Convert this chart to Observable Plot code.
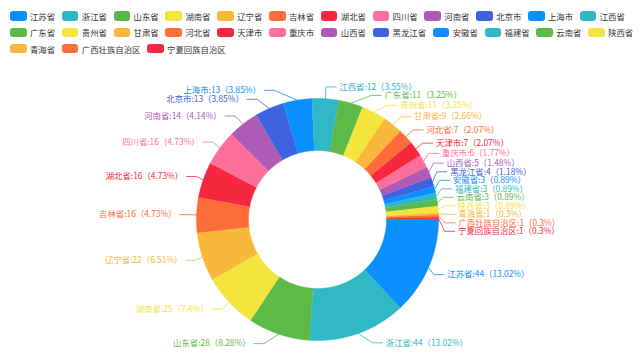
<!DOCTYPE html>
<html>
<head>
<meta charset="utf-8">
<script src="https://cdn.jsdelivr.net/npm/d3@7"></script>
<script src="https://cdn.jsdelivr.net/npm/@observablehq/plot@0.6"></script>
<style>
  html, body { margin: 0; padding: 0; background: #fff; }
  #wrap { position: relative; width: 640px; height: 360px; overflow: hidden; font-family: "Noto Sans CJK SC", "Noto Sans", sans-serif; }
  #legend { position: absolute; left: 10px; top: 11px; width: 630px; display: flex; flex-wrap: wrap; column-gap: 6.7px; row-gap: 6.4px; }
  .item { display: flex; align-items: center; height: 10px; font-size: 8.4px; line-height: 10px; color: #333; white-space: nowrap; }
  .sw { width: 16.7px; height: 9.3px; border-radius: 3px; margin-right: 3.3px; flex: none; }
</style>
</head>
<body>
<div id="wrap"><div id="legend"></div></div>
<script>
const names = ["江苏省","浙江省","山东省","湖南省","辽宁省","吉林省","湖北省","四川省","河南省","北京市","上海市","江西省","广东省","贵州省","甘肃省","河北省","天津市","重庆市","山西省","黑龙江省","安徽省","福建省","云南省","陕西省","青海省","广西壮族自治区","宁夏回族自治区"];
const values = [44,44,28,25,22,16,16,16,14,13,13,12,11,11,9,7,7,6,5,4,3,3,3,3,1,1,1];
const palette = ["#0a8fff","#31b8c6","#5cbb48","#f3e53d","#f8b83c","#fe6c3a","#f5283f","#ff6f9b","#ae5bb5","#3d62e0"];

// geometry (px)
const W = 640, H = 360, cx = 317, cy = 219, R = 121, R0 = 69;
const len = 10, len2 = 10, dist = 3.3, lh = 8.5;

const total = d3.sum(values);
// percentages with largest remainder (precision 2)
const raw = values.map(v => v / total * 10000);
const fl = raw.map(Math.floor);
let rem = 10000 - d3.sum(fl);
const order = d3.range(values.length).sort((a, b) => (raw[b] - fl[b]) - (raw[a] - fl[a]));
for (let k = 0; k < rem; k++) fl[order[k]] += 1;
const pct = fl.map(n => String(+(n / 100).toFixed(2)));

const rows = names.map((name, i) => ({name, value: values[i], color: palette[i % palette.length], pct: pct[i]}));

// slices
const slicePts = [];
const labelItems = [];
let acc = 0;
rows.forEach((d, i) => {
  const a0 = acc / total * 2 * Math.PI;
  acc += d.value;
  const a1 = acc / total * 2 * Math.PI;
  const n = Math.max(2, Math.ceil((a1 - a0) / (Math.PI / 360)));
  for (let k = 0; k <= n; k++) {
    const a = a0 + (a1 - a0) * k / n;
    slicePts.push({id: i, color: d.color, x: cx + R * Math.cos(a), y: cy + R * Math.sin(a)});
  }
  for (let k = n; k >= 0; k--) {
    const a = a0 + (a1 - a0) * k / n;
    slicePts.push({id: i, color: d.color, x: cx + R0 * Math.cos(a), y: cy + R0 * Math.sin(a)});
  }
  const mid = (a0 + a1) / 2;
  const dx = Math.cos(mid), dy = Math.sin(mid);
  const x1 = cx + R * dx, y1 = cy + R * dy;
  const x2 = x1 + dx * len, y2 = y1 + dy * len;
  const x3 = x2 + (dx < 0 ? -1 : 1) * len2, y3 = y2;
  labelItems.push({
    id: i, color: d.color,
    text: `${d.name}:${d.value}（${d.pct}%）`,
    x: x3 + (dx < 0 ? -dist : dist), y: y3, height: lh, len, len2,
    linePoints: [[x1, y1], [x2, y2], [x3, y3]]
  });
});

// ECharts-like label overlap avoidance
function adjustSingleSide(list, dir, viewTop, viewHeight) {
  if (!list.length) return;
  list.sort((a, b) => a.y - b.y);
  function shiftUp(end, delta) {
    for (let j = end; j >= 0; j--) {
      if (list[j].y - delta < viewTop) break;
      list[j].y -= delta;
      if (j > 0 && list[j].y > list[j - 1].y + list[j - 1].height) break;
    }
  }
  function shiftDown(start, end, delta) {
    for (let j = start; j < end; j++) {
      if (list[j].y + delta > viewTop + viewHeight) break;
      list[j].y += delta;
      if (j > start && j + 1 < end && list[j + 1].y > list[j].y + list[j].height) {
        shiftUp(j, delta / 2);
        return;
      }
    }
    shiftUp(end - 1, delta / 2);
  }
  function changeX(sub, isDown) {
    let last = isDown ? Number.MAX_VALUE : 0;
    for (const it of sub) {
      const ady = Math.abs(it.y - cy);
      let ddx = ady < R + it.len
        ? Math.sqrt((R + it.len + it.len2) ** 2 - ady * ady)
        : Math.abs(it.x - cx);
      if (isDown && ddx >= last) ddx = last - 6.7;
      if (!isDown && ddx <= last) ddx = last + 6.7;
      it.x = cx + ddx * dir;
      last = ddx;
    }
  }
  let lastY = 0;
  for (let i = 0; i < list.length; i++) {
    const delta = list[i].y - lastY;
    if (delta < 0) shiftDown(i, list.length, -delta);
    lastY = list[i].y + list[i].height;
  }
  if (viewHeight - lastY < 0) shiftUp(list.length - 1, lastY - viewHeight);
  changeX(list.filter(d => d.y < cy), false);
  changeX(list.filter(d => d.y >= cy), true);
}
const leftL = labelItems.filter(d => d.x < cx), rightL = labelItems.filter(d => d.x >= cx);
adjustSingleSide(rightL, 1, 0, H);
adjustSingleSide(leftL, -1, 0, H);
const linePts = [];
for (const it of labelItems) {
  const lp = it.linePoints;
  const d0 = lp[1][0] - lp[2][0];
  it.left = it.x < cx;
  lp[2][0] = it.left ? it.x + dist : it.x - dist;
  lp[1][0] = lp[2][0] + d0;
  lp[1][1] = lp[2][1] = it.y;
  lp.forEach(p => linePts.push({id: it.id, color: it.color, x: p[0], y: p[1]}));
}

const font = "Noto Sans CJK SC, Noto Sans, sans-serif";
const chart = Plot.plot({
  width: W, height: H, margin: 0,
  x: {domain: [0, W], range: [0, W], axis: null},
  y: {domain: [0, H], range: [0, H], axis: null},
  color: {type: "identity"},
  style: {fontFamily: font, background: "transparent"},
  marks: [
    Plot.line(slicePts, {x: "x", y: "y", z: "id", fill: "color", stroke: "color", strokeWidth: 0.5, curve: "linear"}),
    Plot.line(linePts, {x: "x", y: "y", z: "id", stroke: "color", strokeWidth: 0.8, curve: "linear"}),
    Plot.text(labelItems.filter(d => !d.left), {x: "x", y: "y", text: "text", fill: "color", textAnchor: "start", fontSize: 8.4, fontFamily: font}),
    Plot.text(labelItems.filter(d => d.left), {x: "x", y: "y", text: "text", fill: "color", textAnchor: "end", fontSize: 8.4, fontFamily: font})
  ]
});
document.getElementById("wrap").prepend(chart);

// legend
const legend = document.getElementById("legend");
rows.forEach(d => {
  const it = document.createElement("div");
  it.className = "item";
  const sw = document.createElement("span");
  sw.className = "sw";
  sw.style.background = d.color;
  const tx = document.createElement("span");
  tx.textContent = d.name;
  it.append(sw, tx);
  legend.append(it);
});
</script>
</body>
</html>
